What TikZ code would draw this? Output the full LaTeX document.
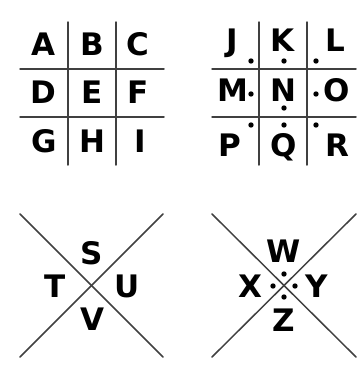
\documentclass[tikz,border=0pt]{standalone}
\usepackage{fontspec}
\setmainfont{DejaVu Sans}
\usepackage{tikz}
\usepackage{tkz-euclide}

\tikzset{
  letter/.style={font=\bfseries\fontsize{31}{31}\selectfont, inner sep=0pt, anchor=base},
  rule/.style={line width=1.5pt, black!75},
  dotmark/.style={fill=black}
}

\begin{document}
\begin{tikzpicture}[x=1pt, y=-1pt]
            \useasboundingbox (0,0) rectangle (363,367);
            % first grid
            \tkzDefPoints{68/22/P_1, 68/165/P_2, 116/22/P_3, 116/165/P_4, 20/69/P_5, 164/69/P_6, 20/117/P_7, 164/117/P_8}
            % second grid (with dots)
            \tkzDefPoints{259/22/Q_1, 259/165/Q_2, 307/22/Q_3, 307/165/Q_4, 212/69/Q_5, 356/69/Q_6, 212/117/Q_7, 356/117/Q_8}
            % the two crosses
            \tkzDefPoints{20/214/R_1, 163/357/R_2, 163/214/R_3, 20/357/R_4}
            \tkzDefPoints{212/214/S_1, 356/357/S_2, 356/214/S_3, 212/357/S_4}
            \tkzDrawSegments[rule](P_1,P_2 P_3,P_4 P_5,P_6 P_7,P_8)
            \tkzDrawSegments[rule](Q_1,Q_2 Q_3,Q_4 Q_5,Q_6 Q_7,Q_8)
            \tkzDrawSegments[rule](R_1,R_2 R_3,R_4 S_1,S_2 S_3,S_4)
            % dots
            \tkzDefPoints{251/61/D_1, 284/61/D_2, 316/61/D_3, 251/94/D_4, 284/108/D_5, 316/94/D_6, 251/125/D_7, 284/125/D_8, 316/125/D_9}
            \tkzDefPoints{284/274/E_1, 273/286/E_2, 295/286/E_3, 284/297/E_4}
            \foreach \p in {D_1,D_2,D_3,D_4,D_5,D_6,D_7,D_8,D_9,E_1,E_2,E_3,E_4}
              \fill[dotmark] (\p) circle (2.7);
            % letters
            \node[letter] (A) at (43,55) {A};
            \node[letter] (B) at (92,55) {B};
            \node[letter] (C) at (138,55) {C};
            \node[letter] (D) at (43,103) {D};
            \node[letter] (E) at (92,103) {E};
            \node[letter] (F) at (138,103) {F};
            \node[letter] (G) at (44,152) {G};
            \node[letter] (H) at (92,152) {H};
            \node[letter] (I) at (140,152) {I};
            \node[letter] (J) at (232,51) {J};
            \node[letter] (K) at (283,51) {K};
            \node[letter] (L) at (335,51) {L};
            \node[letter] (M) at (233,101) {M};
            \node[letter] (N) at (283,101) {N};
            \node[letter] (O) at (337,101) {O};
            \node[letter] (P) at (230,156) {P};
            \node[letter] (Q) at (284,156) {Q};
            \node[letter] (R) at (337,156) {R};
            \node[letter] (S) at (92,264) {S};
            \node[letter] (T) at (55,297) {T};
            \node[letter] (U) at (127,297) {U};
            \node[letter] (V) at (92,330) {V};
            \node[letter] (W) at (284,262) {W};
            \node[letter] (X) at (250,297) {X};
            \node[letter] (Y) at (317,297) {Y};
            \node[letter] (Z) at (284,331) {Z};
        \end{tikzpicture}
\end{document}
